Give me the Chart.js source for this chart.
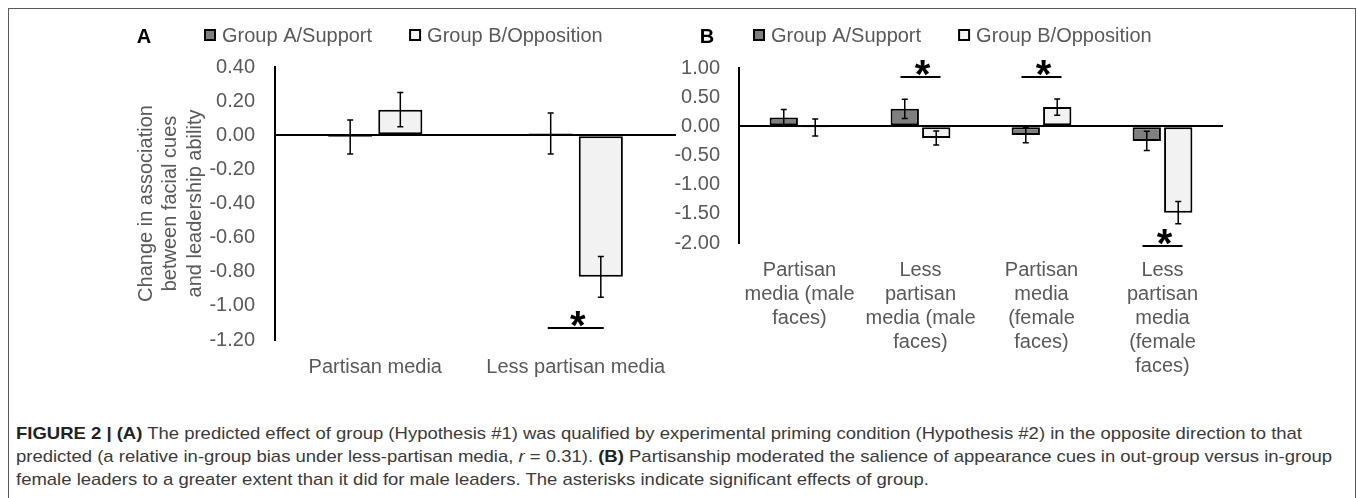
<!DOCTYPE html>
<html>
<head>
<meta charset="utf-8">
<script src="https://cdn.jsdelivr.net/npm/chart.js@4.4.1/dist/chart.umd.min.js"></script>
<style>
body { margin: 0; background: #fff; }
#wrap { position: relative; width: 1357px; height: 498px; overflow: hidden; background: #fff; }
#frame { position: absolute; left: 8px; top: 8px; width: 1348px; height: 520px; border: 1.5px solid #5a5a5a; box-sizing: border-box; }
#boxA { position: absolute; left: 0; top: 0; width: 690px; height: 420px; }
#boxB { position: absolute; left: 640px; top: 0; width: 717px; height: 420px; }
#caption { position: absolute; left: 16px; top: 422px; font-family: 'Liberation Sans', Arial, sans-serif; font-size: 17px; line-height: 23px; color: #3a3a3a; white-space: nowrap; }
#caption b { color: #222; }
#caption span { display: inline-block; transform-origin: 0 50%; }
</style>
</head>
<body>
<div id="wrap">
  <div id="frame"></div>
  <div id="boxA"><canvas id="chartA" width="690" height="420"></canvas></div>
  <div id="boxB"><canvas id="chartB" width="717" height="420"></canvas></div>
  <div id="caption">
    <div><span id="cap1"><b>FIGURE 2 | (A)</b> The predicted effect of group (Hypothesis #1) was qualified by experimental priming condition (Hypothesis #2) in the opposite direction to that</span></div>
    <div><span>predicted (a relative in-group bias under less-partisan media, <i>r</i> = 0.31). <b>(B)</b> Partisanship moderated the salience of appearance cues in out-group versus in-group</span></div>
    <div><span>female leaders to a greater extent than it did for male leaders. The asterisks indicate significant effects of group.</span></div>
  </div>
</div>
<script>
const groups = ['Group A/Support', 'Group B/Opposition'];

// panel A
const catsA = ['Partisan media', 'Less partisan media'];
const supportA = [-0.01, 0.01];
const supportErrA = [0.10, 0.12];
const oppositionA = [0.15, -0.83];
const oppositionErrA = [0.10, 0.12];
const yTicksA = [0.4, 0.2, 0, -0.2, -0.4, -0.6, -0.8, -1.0, -1.2];
const yTitleA = ['Change in association', 'between facial cues', 'and leadership ability'];
const starCatsA = [1];
const starValsA = [-1.13];

// panel B
const catsB = [
	['Partisan', 'media (male', 'faces)'],
	['Less', 'partisan', 'media (male', 'faces)'],
	['Partisan', 'media', '(female', 'faces)'],
	['Less', 'partisan', 'media', '(female', 'faces)'],
];
const supportB = [0.15, 0.30, -0.15, -0.25];
const supportErrB = [0.14, 0.165, 0.13, 0.165];
const oppositionB = [-0.02, -0.20, 0.33, -1.48];
const oppositionErrB = [0.145, 0.12, 0.14, 0.19];
const yTicksB = [1, 0.5, 0, -0.5, -1, -1.5, -2];
const starCatsB = [1, 2, 3];
const starValsB = [0.845, 0.845, -2.05];

const fontFamily = '"Liberation Sans", Arial, sans-serif';
const textGray = '#595959';
const fillA = '#7f7f7f';
const fillB = '#f2f2f2';

Chart.defaults.font.family = fontFamily;

// error bars, significance marks, legend and panel letter
const overlay = {
	id: 'overlay',
	afterDatasetsDraw(chart, args, opts) {
		const ctx = chart.ctx;
		const xs = chart.scales.x;
		const ys = chart.scales.y;
		ctx.save();
		ctx.strokeStyle = '#000';
		ctx.lineWidth = 1.5;
		chart.data.datasets.forEach((ds, di) => {
			chart.getDatasetMeta(di).data.forEach((bar, i) => {
				const v = ds.data[i];
				const e = ds.errors[i];
				const y1 = ys.getPixelForValue(v + e);
				const y2 = ys.getPixelForValue(v - e);
				ctx.beginPath();
				ctx.moveTo(bar.x, y1);
				ctx.lineTo(bar.x, y2);
				ctx.moveTo(bar.x - 3, y1);
				ctx.lineTo(bar.x + 3, y1);
				ctx.moveTo(bar.x - 3, y2);
				ctx.lineTo(bar.x + 3, y2);
				ctx.stroke();
			});
		});

		ctx.font = 'bold 40px ' + fontFamily;
		ctx.fillStyle = '#000';
		ctx.textAlign = 'center';
		ctx.textBaseline = 'alphabetic';
		const m = ctx.measureText('*');
		opts.starCats.forEach((c, k) => {
			const cx = xs.getPixelForValue(c);
			const ly = ys.getPixelForValue(opts.starVals[k]);
			ctx.lineWidth = 2;
			ctx.beginPath();
			ctx.moveTo(cx - opts.lineHalf, ly);
			ctx.lineTo(cx + opts.lineHalf, ly);
			ctx.stroke();
			const starMid = ly - 9;
			const base = starMid + (m.actualBoundingBoxAscent - m.actualBoundingBoxDescent) / 2;
			ctx.fillText('*', cx + 2, base);
		});
		ctx.restore();
	},
	afterDraw(chart, args, opts) {
		const ctx = chart.ctx;
		ctx.save();
		ctx.textBaseline = 'alphabetic';
		ctx.font = 'bold 20px ' + fontFamily;
		ctx.fillStyle = '#000';
		ctx.textAlign = 'center';
		ctx.fillText(opts.letter, opts.letterX, 42.5);

		let lx = opts.legendX;
		ctx.textAlign = 'left';
		chart.data.datasets.forEach((ds) => {
			ctx.fillStyle = ds.backgroundColor;
			ctx.fillRect(lx + 1, 30, 10, 10);
			ctx.strokeStyle = '#000';
			ctx.lineWidth = 2;
			ctx.strokeRect(lx + 1, 30, 10, 10);
			ctx.font = '20px ' + fontFamily;
			ctx.fillStyle = textGray;
			ctx.fillText(ds.label, lx + 18, 42);
			lx += 18 + ctx.measureText(ds.label).width + 37;
		});
		ctx.restore();
	},
};

function buildChart(id, cfg) {
	const datasets = [
		{
			label: groups[0],
			data: cfg.support,
			errors: cfg.supportErr,
			backgroundColor: fillA,
		},
		{
			label: groups[1],
			data: cfg.opposition,
			errors: cfg.oppositionErr,
			backgroundColor: fillB,
		},
	].map((d) => ({
		...d,
		borderColor: '#000',
		borderWidth: 2,
		borderSkipped: false,
		categoryPercentage: cfg.catPct,
		barPercentage: cfg.barPct,
	}));

	const ticks = cfg.yTicks;

	return new Chart(document.getElementById(id), {
		type: 'bar',
		data: { labels: cfg.labels, datasets: datasets },
		options: {
			responsive: false,
			animation: false,
			layout: { padding: cfg.padding },
			plugins: {
				legend: { display: false },
				tooltip: { enabled: false },
				overlay: {
					letter: cfg.letter,
					letterX: cfg.letterX,
					legendX: cfg.legendX,
					starCats: cfg.starCats,
					starVals: cfg.starVals,
					lineHalf: cfg.lineHalf,
				},
			},
			scales: {
				x: {
					grid: { display: false, drawTicks: false },
					border: { display: false },
					ticks: {
						color: textGray,
						font: { size: 20, lineHeight: 1.2 },
						padding: 15,
						maxRotation: 0,
						autoSkip: false,
					},
					afterFit: (s) => {
						s.height = cfg.xHeight;
					},
				},
				y: {
					min: Math.min(...ticks),
					max: Math.max(...ticks),
					afterBuildTicks: (s) => {
						s.ticks = ticks.map((v) => ({ value: v }));
					},
					afterFit: (s) => {
						s.width = cfg.yWidth;
					},
					ticks: {
						color: textGray,
						font: { size: 20 },
						padding: cfg.tickPad,
						callback: (v) => Number(v).toFixed(2),
					},
					grid: {
						drawTicks: false,
						lineWidth: 2,
						color: (ctx) => (ctx.tick && ctx.tick.value === 0 ? '#000' : 'rgba(0,0,0,0)'),
					},
					border: { display: true, color: '#000', width: 2 },
					title: cfg.title
						? {
								display: true,
								text: cfg.title,
								color: textGray,
								font: { size: 20, lineHeight: 1.22 },
								padding: { top: 134, bottom: 0 },
						  }
						: { display: false },
				},
			},
		},
		plugins: [overlay],
	});
}

buildChart('chartA', {
	labels: catsA,
	support: supportA,
	supportErr: supportErrA,
	opposition: oppositionA,
	oppositionErr: oppositionErrA,
	yTicks: yTicksA,
	title: yTitleA,
	starCats: starCatsA,
	starVals: starValsA,
	lineHalf: 28,
	catPct: 0.5,
	barPct: 0.88,
	padding: { left: 0, right: 14, top: 67, bottom: 0 },
	yWidth: 275,
	xHeight: 80,
	tickPad: 20,
	letter: 'A',
	letterX: 144,
	legendX: 204,
});

buildChart('chartB', {
	labels: catsB,
	support: supportB,
	supportErr: supportErrB,
	opposition: oppositionB,
	oppositionErr: oppositionErrB,
	yTicks: yTicksB,
	title: null,
	starCats: starCatsB,
	starVals: starValsB,
	lineHalf: 20,
	catPct: 0.52,
	barPct: 0.9,
	padding: { left: 0, right: 134, top: 68, bottom: 0 },
	yWidth: 99,
	xHeight: 177,
	tickPad: 19,
	letter: 'B',
	letterX: 67,
	legendX: 113,
});

// squeeze the caption lines horizontally to the printed line length (condensed face)
const spans = document.querySelectorAll('#caption span');
const squeeze = 1286 / document.getElementById('cap1').getBoundingClientRect().width;
spans.forEach((s) => {
	s.style.transform = 'scaleX(' + squeeze + ')';
});
</script>
</body>
</html>
